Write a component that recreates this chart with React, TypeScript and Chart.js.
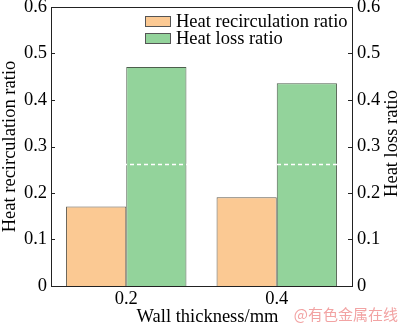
import React, { useEffect, useRef } from "react";
import { Chart, registerables } from "chart.js";

Chart.register(...registerables);

const categories = ["0.2", "0.4"];
const heatRecirculation = [0.171, 0.191];
const heatLoss = [0.471, 0.436];
const yTicks = [0, 0.1, 0.2, 0.3, 0.4, 0.5, 0.6];
const breakValue = 0.263;
const seriesLabels = ["Heat recirculation ratio", "Heat loss ratio"];
const leftTitle = "Heat recirculation ratio";
const rightTitle = "Heat loss ratio";
const xTitle = "Wall thickness/mm";
const watermark = "@有色金属在线";

const SERIF = "'Liberation Serif', 'Times New Roman', serif";
const FS = 18.5;

const fmt = (v: number) => (v === 0 ? "0" : v.toFixed(1));

const decorPlugin = {
  id: "decor",
  afterDatasetsDraw(chart: any) {
    const { ctx, chartArea: a, scales } = chart;
    const y = scales.y;
    ctx.save();
    const by = Math.round(y.getPixelForValue(breakValue)) + 0.5;
    ctx.strokeStyle = "#ffffff";
    ctx.lineWidth = 1.5;
    ctx.setLineDash([4, 3]);
    ctx.beginPath();
    ctx.moveTo(a.left + 2, by);
    ctx.lineTo(a.right - 2, by);
    ctx.stroke();
    ctx.setLineDash([]);
    ctx.restore();
  },
  afterDraw(chart: any) {
    const { ctx, chartArea: a, scales } = chart;
    ctx.save();
    ctx.strokeStyle = "#222";
    ctx.lineWidth = 1;
    ctx.strokeRect(Math.round(a.left) + 0.5, Math.round(a.top) + 0.5, Math.round(a.right - a.left), Math.round(a.bottom - a.top));
    for (const id of ["y", "y1"]) {
      const s = scales[id];
      for (const v of yTicks) {
        const py = Math.round(s.getPixelForValue(v)) + 0.5;
        ctx.beginPath();
        if (id === "y") {
          ctx.moveTo(a.left, py);
          ctx.lineTo(a.left + 4, py);
        } else {
          ctx.moveTo(a.right - 4, py);
          ctx.lineTo(a.right, py);
        }
        ctx.stroke();
      }
    }
    const ds = chart.data.datasets;
    ctx.font = `${FS}px ${SERIF}`;
    ctx.textBaseline = "middle";
    ctx.textAlign = "left";
    ds.forEach((d: any, i: number) => {
      const sy = 16 + i * 17;
      ctx.fillStyle = d.backgroundColor;
      ctx.fillRect(145.5, sy + 0.5, 25, 10);
      ctx.strokeStyle = "#555";
      ctx.strokeRect(145.5, sy + 0.5, 25, 10);
      ctx.fillStyle = "#000";
      ctx.fillText(d.label, 176, sy + 6);
    });
    const cy = (a.top + a.bottom) / 2;
    ctx.fillStyle = "#000";
    ctx.textAlign = "center";
    ctx.save();
    ctx.translate(10, cy);
    ctx.rotate(-Math.PI / 2);
    ctx.fillText(leftTitle, 0, 0);
    ctx.restore();
    ctx.save();
    ctx.translate(392, cy - 3);
    ctx.rotate(-Math.PI / 2);
    ctx.fillText(rightTitle, 0, 0);
    ctx.restore();
    ctx.fillText(xTitle, (a.left + a.right) / 2 + 6, 317);
    ctx.font = `15px 'Noto Sans CJK SC', sans-serif`;
    ctx.fillStyle = "#f2a3a3";
    ctx.textAlign = "right";
    ctx.fillText(watermark, 398, 314);
    ctx.restore();
  },
};

export default function App() {
  const ref = useRef<HTMLCanvasElement>(null);
  useEffect(() => {
    if (!ref.current) return;
    const yAxis = (position: string, width: number, padding: number) => ({
      type: "linear",
      position,
      min: 0,
      max: 0.6,
      afterBuildTicks(scale: any) {
        scale.ticks = yTicks.map((v) => ({ value: v }));
      },
      afterFit(scale: any) {
        scale.width = width;
        scale.paddingTop = 0;
        scale.paddingBottom = 0;
      },
      grid: { display: false, drawTicks: false, tickLength: 0 },
      border: { display: false },
      ticks: {
        padding,
        color: "#000",
        font: { family: SERIF, size: FS },
        callback: (v: any) => fmt(Number(v)),
      },
    });
    const chart = new Chart(ref.current, {
      type: "bar",
      data: {
        labels: categories,
        datasets: [
          {
            label: seriesLabels[0],
            data: heatRecirculation,
            backgroundColor: "#fbc993",
            borderColor: "#5f5a4c",
            borderWidth: 1,
            yAxisID: "y",
          },
          {
            label: seriesLabels[1],
            data: heatLoss,
            backgroundColor: "#93d39b",
            borderColor: "#4d5e4c",
            borderWidth: 1,
            yAxisID: "y",
          },
        ],
      },
      options: {
        responsive: false,
        maintainAspectRatio: false,
        animation: false,
        layout: { padding: { top: 7, left: 0, right: 0, bottom: 0 } },
        datasets: { bar: { categoryPercentage: 0.8, barPercentage: 1 } },
        plugins: { legend: { display: false }, tooltip: { enabled: false } },
        scales: {
          x: {
            type: "category",
            grid: { display: false, drawTicks: false, tickLength: 0 },
            border: { display: false },
            afterFit(scale: any) {
              scale.height = 40;
              scale.paddingLeft = 0;
              scale.paddingRight = 0;
            },
            ticks: {
              padding: 2,
              color: "#000",
              font: { family: SERIF, size: FS },
            },
          },
          y: yAxis("left", 51, 4),
          y1: yAxis("right", 48, 5),
        } as any,
      },
      plugins: [decorPlugin],
    } as any);
    return () => chart.destroy();
  }, []);
  return (
    <div style={{ position: "absolute", left: 0, top: 0, width: 400, height: 326, background: "#fff" }}>
      <canvas ref={ref} width={400} height={326} style={{ display: "block" }} />
    </div>
  );
}
